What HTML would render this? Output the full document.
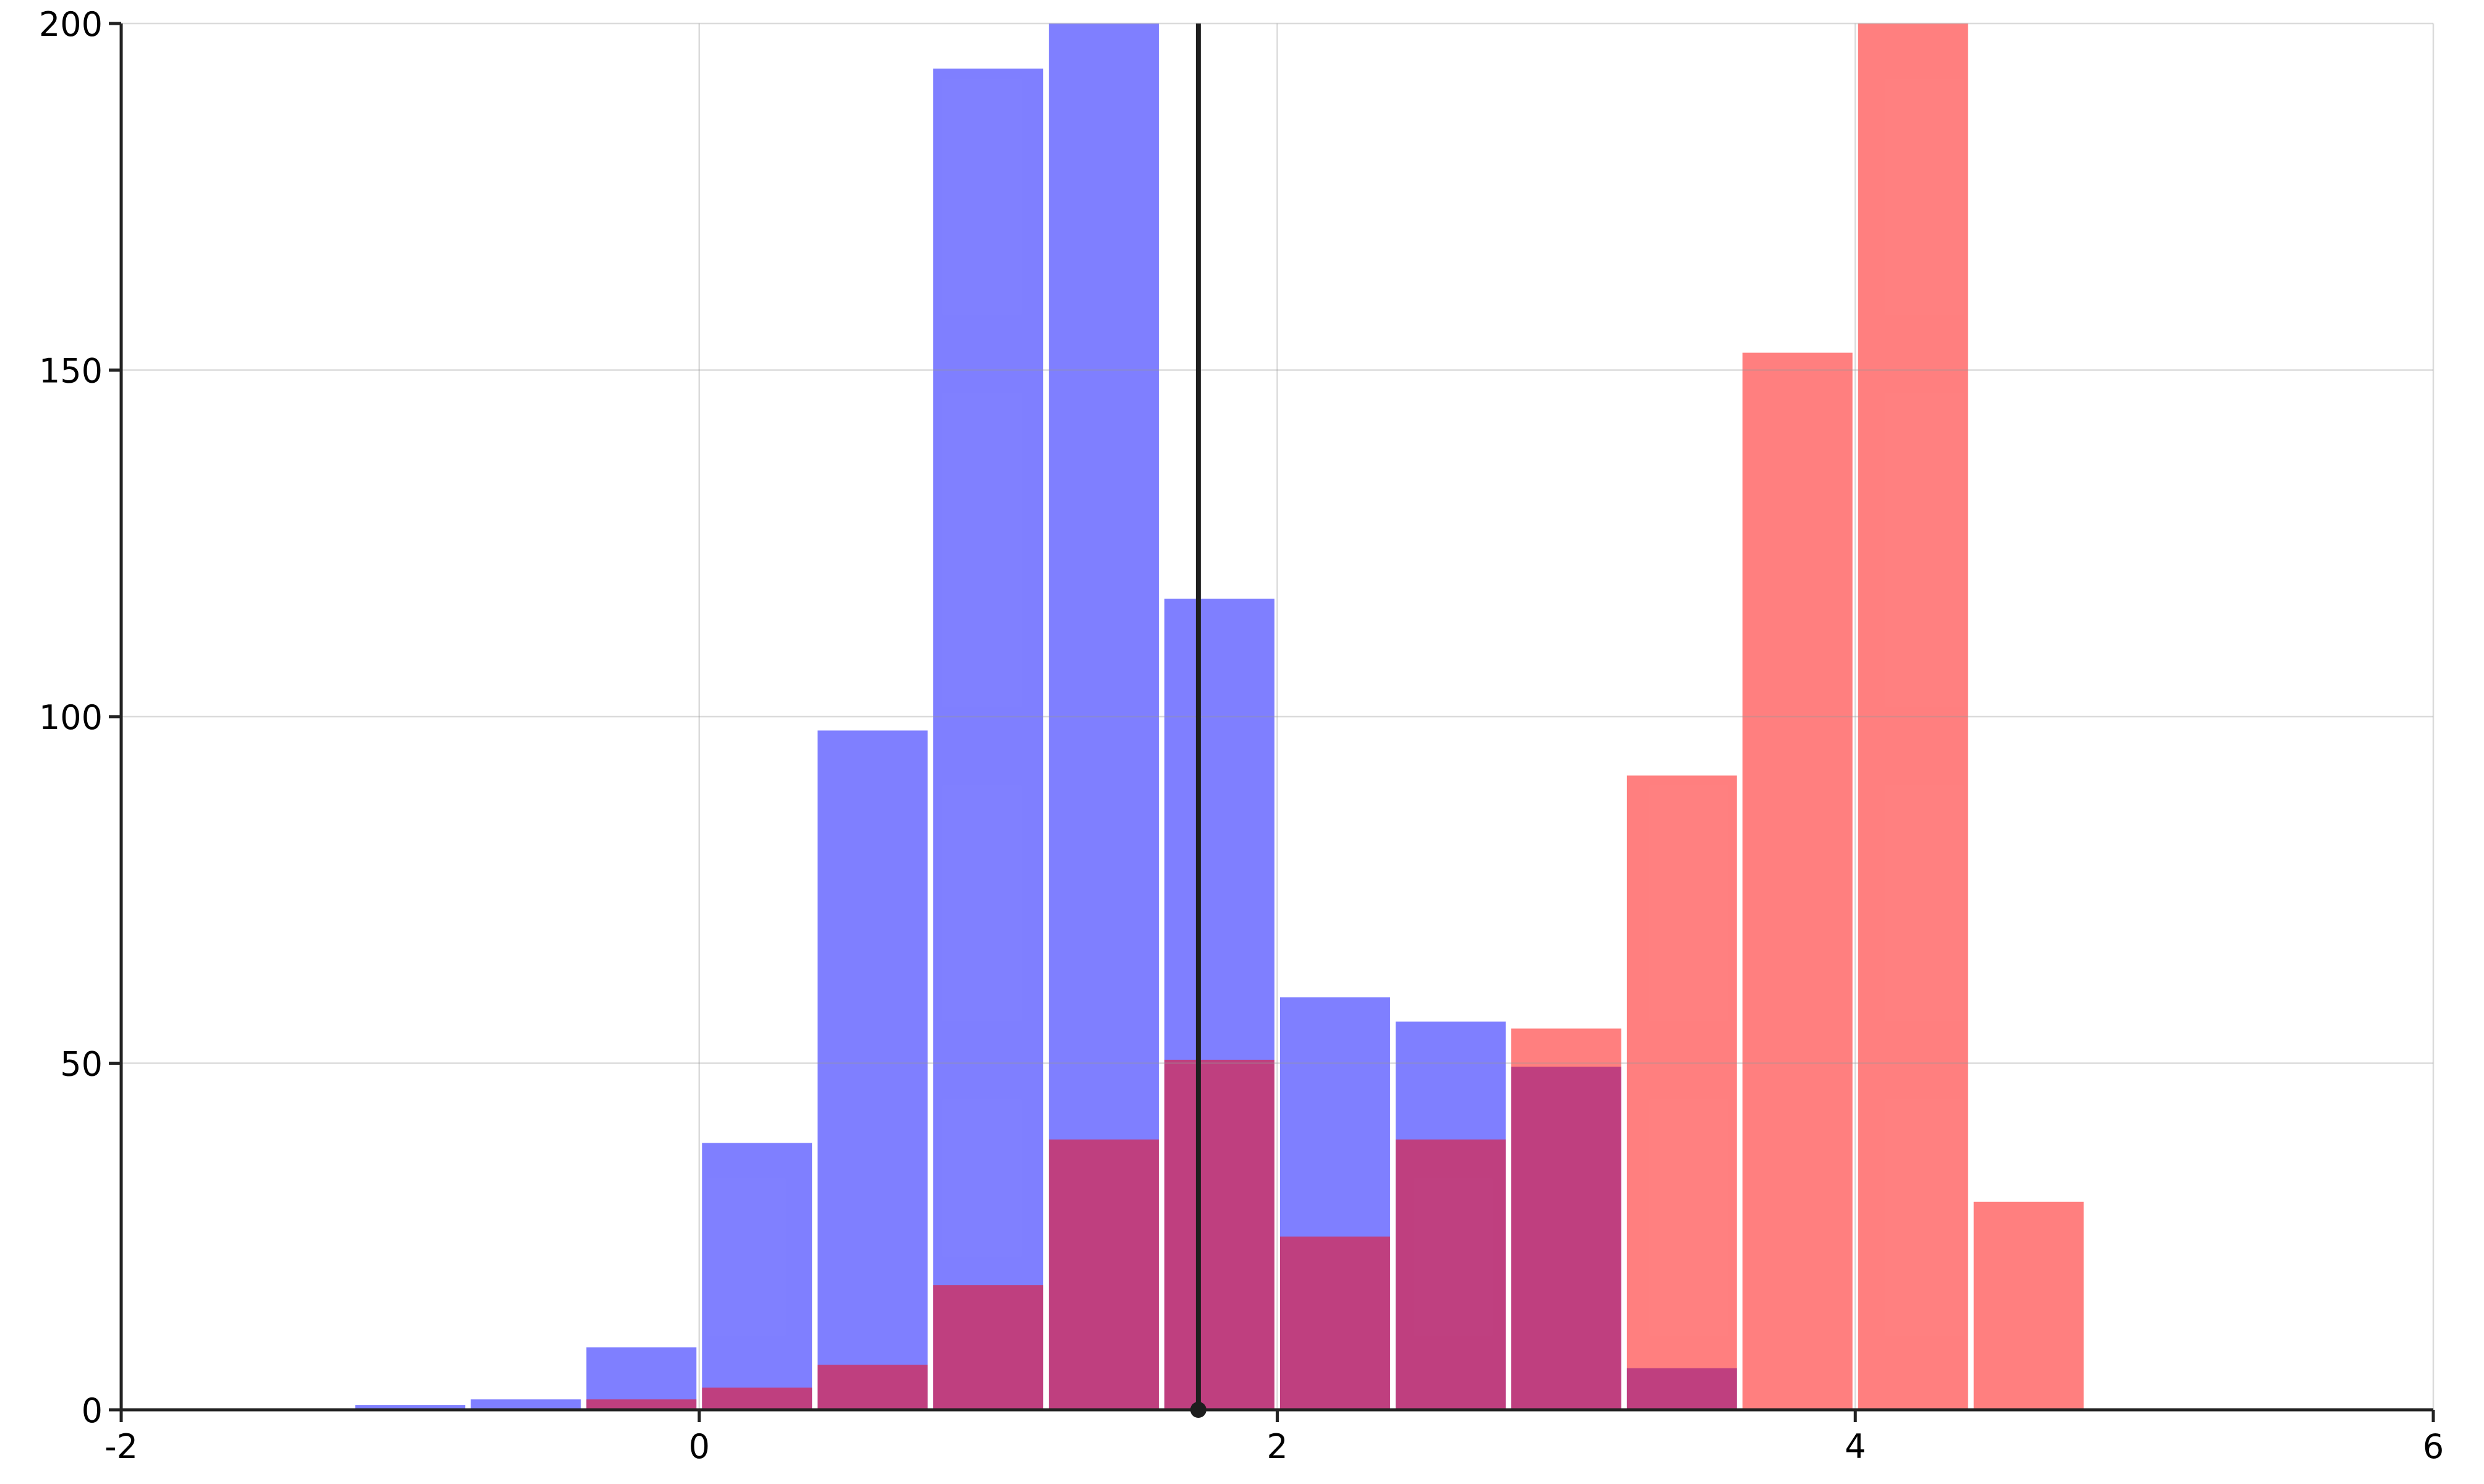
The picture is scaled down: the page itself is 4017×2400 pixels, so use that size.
<!DOCTYPE html>
<html><head><meta charset="utf-8"><style>
html,body{margin:0;padding:0;background:#fff;}
svg{display:block;font-family:"DejaVu Sans","Liberation Sans",sans-serif;}
</style></head><body>
<svg id="chart" width="4017" height="2400" viewBox="0 0 4017 2400" xmlns="http://www.w3.org/2000/svg">
<g id="bars-blue"></g>
<g id="bars-red"></g>
<g id="grid"></g>
<g id="axes"></g>
<g id="marker"></g>
</svg>
<script>
const binStarts = [-1.2,-0.8,-0.4,0,0.4,0.8,1.2,1.6,2.0,2.4,2.8,3.2,3.6,4.0,4.4];
const blueCounts = [0.7,1.5,9,38.5,98,193.5,205,117,59.5,56,49.5,6,0,0,0];
const redCounts  = [0,0,1.5,3.2,6.5,18,39,50.5,25,39,55,91.5,152.5,205,30];
const xTicks = [-2,0,2,4,6];
const yTicks = [0,50,100,150,200];
const markerValue = 1.727;
const binWidth = 0.4;

const X0=196, X1=3935, Y0=2280, Y1=38;
const xMin=-2, xMax=6, yMin=0, yMax=200;
const xs = v => X0 + (v-xMin)/(xMax-xMin)*(X1-X0);
const ys = v => Y0 - (Math.min(v,yMax)-yMin)/(yMax-yMin)*(Y0-Y1);
const NS="http://www.w3.org/2000/svg";
function mk(tag, attrs, parent){const e=document.createElementNS(NS,tag);for(const k in attrs)e.setAttribute(k,attrs[k]);parent.appendChild(e);return e;}

function drawBars(gid, counts, color, name){
  const g=document.getElementById(gid);
  counts.forEach((c,i)=>{
    if(c<=0) return;
    const x=xs(binStarts[i])+4.5, w=xs(binStarts[i]+binWidth)-xs(binStarts[i])-9;
    const y=ys(c);
    const r=mk('rect',{x:x,y:y,width:w,height:Y0-y,fill:color,'fill-opacity':0.5},g);
    
    
  });
}
drawBars('bars-blue', blueCounts, '#0000ff', 'blue');
drawBars('bars-red', redCounts, '#ff0000', 'red');

const grid=document.getElementById('grid');
xTicks.forEach(t=>{ if(t===xMin) return;
  const l=mk('line',{x1:xs(t),x2:xs(t),y1:Y1,y2:Y0,stroke:'#999','stroke-opacity':0.35,'stroke-width':2.5},grid);
  
  
});
yTicks.forEach(t=>{ if(t===yMin) return;
  const l=mk('line',{x1:X0,x2:X1,y1:ys(t),y2:ys(t),stroke:'#999','stroke-opacity':0.35,'stroke-width':2.5},grid);
  
  
});

const axes=document.getElementById('axes');
let a=mk('line',{x1:X0,x2:X1,y1:Y0,y2:Y0,stroke:'#222','stroke-width':5},axes);


a=mk('line',{x1:X0,x2:X0,y1:Y1,y2:Y0,stroke:'#222','stroke-width':5},axes);


xTicks.forEach(t=>{
  const tk=mk('line',{x1:xs(t),x2:xs(t),y1:Y0,y2:Y0+20,stroke:'#222','stroke-width':5},axes);
  
  
  const tx=mk('text',{x:xs(t),y:Y0+78,'text-anchor':'middle','font-size':54,fill:'#000'},axes);
  tx.textContent=t;
  
  
});
yTicks.forEach(t=>{
  const tk=mk('line',{x1:X0-20,x2:X0,y1:ys(t),y2:ys(t),stroke:'#222','stroke-width':5},axes);
  
  
  const tx=mk('text',{x:X0-30,y:ys(t)+20,'text-anchor':'end','font-size':54,fill:'#000'},axes);
  tx.textContent=t;
  
  
});

const mg=document.getElementById('marker');
let m=mk('line',{x1:xs(markerValue),x2:xs(markerValue),y1:Y1,y2:Y0,stroke:'#1e1e1e','stroke-width':8},mg);


m=mk('circle',{cx:xs(markerValue),cy:Y0,r:13,fill:'#1e1e1e'},mg);


</script>
</body></html>
